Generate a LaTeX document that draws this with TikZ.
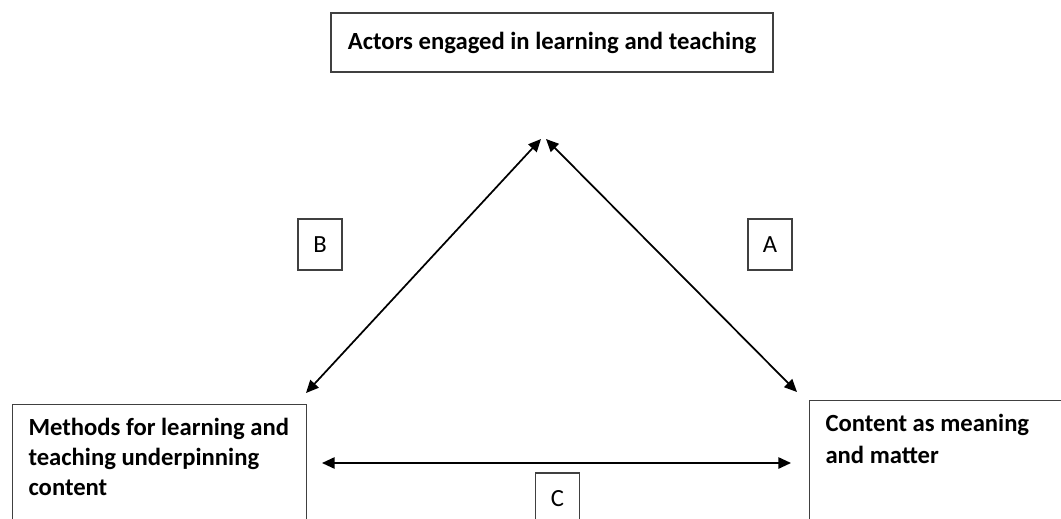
\documentclass[tikz,border=0pt]{standalone}
\usepackage{fontspec}
\setmainfont{Carlito}
\usetikzlibrary{arrows.meta}
\begin{document}
\begin{tikzpicture}[x=0.75pt, y=-0.75pt,
    box/.style={draw=black!75, line width=0.8pt, rectangle, inner sep=0pt},
    bigbox/.style={box, anchor=north west, align=flush left, inner xsep=12pt, inner ysep=10pt,
      font=\fontsize{18.5}{22.5}\selectfont\bfseries},
    letter/.style={box, minimum width=33pt, minimum height=38.25pt,
      font=\fontsize{18.5}{21}\selectfont},
    link/.style={>={Triangle[length=9.5pt, width=8.5pt]}, <->, line width=1.3pt}]
\useasboundingbox (0,0) rectangle (1061,518);

\node[box, minimum width=331.5pt, minimum height=44.25pt,
  font=\fontsize{18.5}{21.5}\selectfont\bfseries] (actors) at (552,42.5) {Actors engaged in learning and teaching};
\node[bigbox, text width=196.5pt, text depth=70pt] (methods) at (12,404) {Methods for learning and\\ teaching underpinning\\ content};
\node[bigbox, text width=186pt, text depth=70pt,
  font=\fontsize{18.5}{24}\selectfont\bfseries] (content) at (809,400) {Content as meaning\\ and matter};

\node[letter] (labB) at (320,244.5) {B};
\node[letter] (labA) at (770,244.5) {A};
\node[letter] (labC) at (557.5,498.5) {C};

\coordinate (apexB) at (541,139);
\coordinate (apexA) at (546,139);
\coordinate (tipB) at (306,393);
\coordinate (tipA) at (797,392);
\coordinate (tipL) at (322,463);
\coordinate (tipR) at (791,463);

\draw[link] (tipB) -- (apexB);
\draw[link] (apexA) -- (tipA);
\draw[link] (tipL) -- (tipR);
\end{tikzpicture}
\end{document}
